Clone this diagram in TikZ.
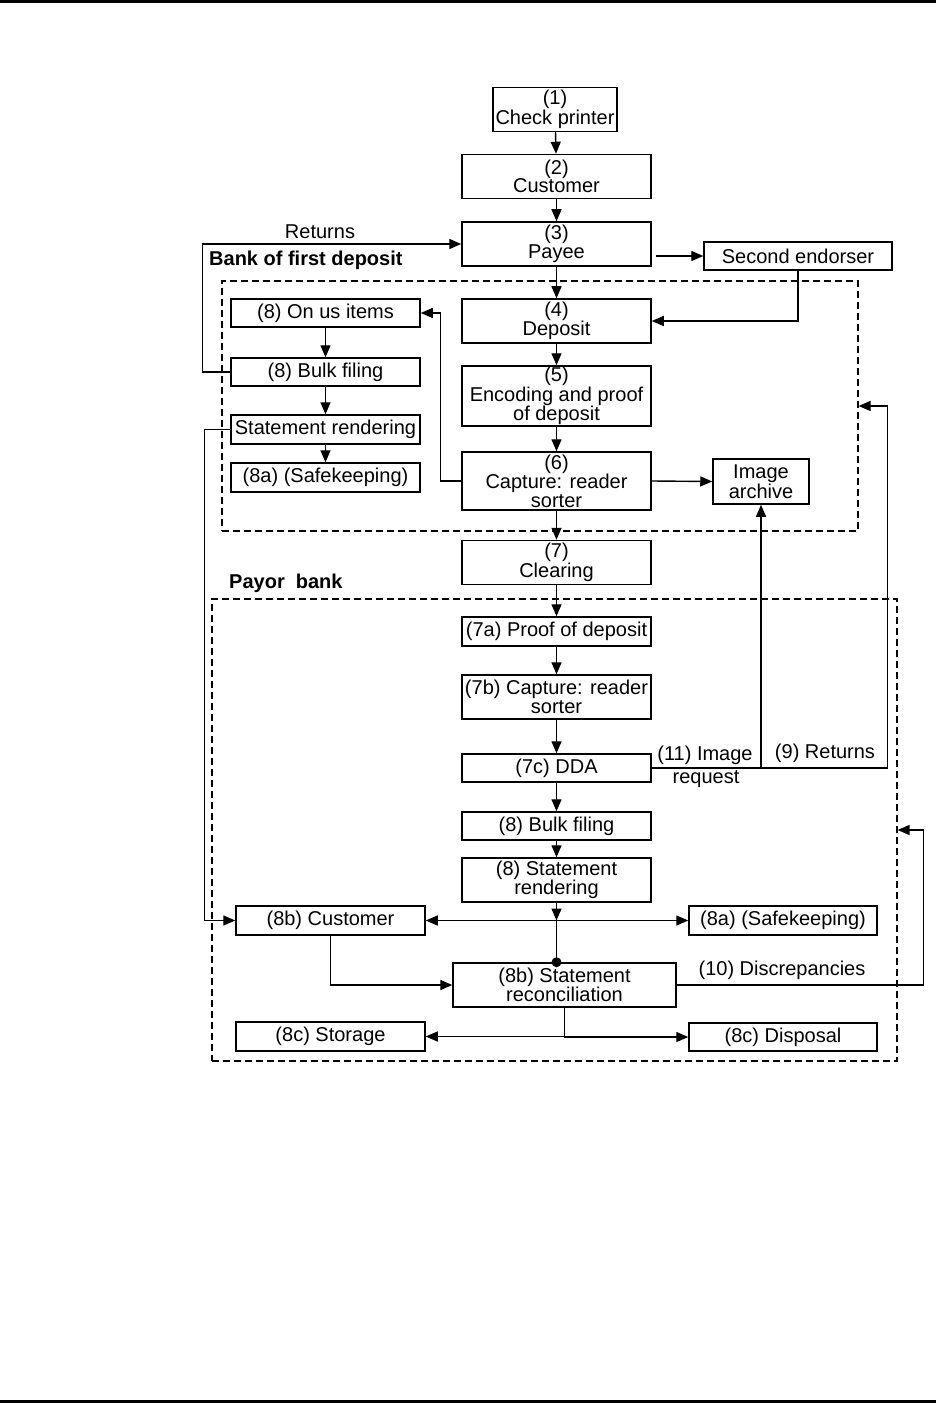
\documentclass[tikz,border=0pt]{standalone}
\usepackage{fontspec}
\setmainfont{Liberation Sans}
\usetikzlibrary{arrows.meta}
\newcommand{\boxfont}{\fontsize{20}{18.5}\selectfont}

\begin{document}
\begin{tikzpicture}[
  x=1pt, y=-1pt,
  >={Triangle[length=12pt,width=10pt]},
  box/.style={draw, line width=1.5pt, inner sep=1pt, align=center, font=\boxfont, minimum width=189pt, minimum height=28pt},
  tall/.style={box, minimum height=44pt},
  zone/.style={draw, line width=1.2pt, dash pattern=on 7pt off 4pt, inner sep=0pt},
  arr/.style={->, line width=1.4pt},
  wire/.style={line width=1.4pt},
  lab/.style={inner sep=0pt, font=\boxfont},
]
\useasboundingbox (0,0) rectangle (936,1404);

% page rules
\draw[line width=3pt] (0,2) -- (936,2);
\draw[line width=3pt] (0,1401) -- (936,1401);

% bank areas
\node[zone, minimum width=636pt, minimum height=250pt] (bfd) at (540,406) {};
\node[zone, minimum width=685pt, minimum height=462pt] (payor) at (554.5,830) {};

\node[lab, anchor=west, font=\boxfont\bfseries] (lbfd) at (209,260) {Bank of first deposit};
\node[lab, anchor=west, font=\boxfont\bfseries] (lpayor) at (229,583) {Payor\ \ bank};

% main column
\node[tall, minimum width=124pt] (printer) at (555,109.5) {(1)\\Check printer};
\node[tall] (cust) at (556.5,176.5) {(2)\\Customer};
\node[tall] (payee) at (556.5,244) {(3)\\Payee};
\node[box, minimum width=188pt] (endorser) at (798,256) {Second endorser};
\node[tall] (deposit) at (556.5,321) {(4)\\Deposit};
\node[tall, minimum height=60pt] (encode) at (556.5,396) {(5)\\Encoding and proof\\of deposit};
\node[tall, minimum height=58pt] (captureA) at (556.5,481) {(6)\\Capture: reader\\sorter};
\node[tall, minimum width=96pt, minimum height=45pt] (archive) at (761,481.5) {Image\\archive};
\node[tall] (clearing) at (556.5,562.5) {(7)\\Clearing};

% first deposit bank, left column
\node[box] (onus) at (325.5,313) {(8) On us items};
\node[box] (bulkA) at (325.5,372) {(8) Bulk filing};
\node[box, minimum height=29pt] (stmtA) at (325.5,429.5) {Statement rendering};
\node[box, minimum height=29pt] (safeA) at (325.5,477.5) {(8a) (Safekeeping)};

% payor bank
\node[box, minimum height=29pt] (proof) at (556.5,631.5) {(7a) Proof of deposit};
\node[tall] (captureB) at (556.5,697) {(7b) Capture: reader\\sorter};
\node[box] (dda) at (556.5,768) {(7c) DDA};
\node[box] (bulkB) at (556.5,826) {(8) Bulk filing};
\node[tall] (stmtB) at (556.5,880) {(8) Statement\\rendering};
\node[box, minimum height=29pt] (custB) at (330.5,920.5) {(8b) Customer};
\node[box, minimum width=188pt, minimum height=29pt] (safeB) at (783,920.5) {(8a) (Safekeeping)};
\node[tall, minimum width=223pt] (recon) at (564.5,985) {(8b) Statement\\reconciliation};
\node[box, minimum height=29pt] (storage) at (330.5,1036.5) {(8c) Storage};
\node[box, minimum width=188pt] (disposal) at (783,1037) {(8c) Disposal};

% labels
\node[lab] (lret) at (320,232) {Returns};
\node[lab] (limage) at (705,755) {(11) Image};
\node[lab] (lrequest) at (706,779) {request};
\node[lab] (lret9) at (825,753) {(9) Returns};
\node[lab] (ldisc) at (782,970) {(10) Discrepancies};

% flow down the middle
\draw[arr] (printer) -- (cust);
\draw[arr] (cust) -- (payee);
\draw[arr] (payee) -- (deposit);
\draw[arr] (deposit) -- (encode);
\draw[arr] (encode) -- (captureA);
\draw[arr] (captureA) -- (clearing);
\draw[arr] (clearing) -- (proof);
\draw[arr] (proof) -- (captureB);
\draw[arr] (captureB) -- (dda);
\draw[arr] (dda) -- (bulkB);
\draw[arr] (bulkB) -- (stmtB);

\draw[arr] ([xshift=4pt]payee.east |- endorser.west) -- (endorser.west);
\draw[arr] (endorser.south) |- (deposit.east);
\draw[arr] (captureA.east) -- (archive.west);
\draw[arr] (captureA.west) -- ++(-21,0) |- (onus.east);
\draw[arr] (onus) -- (bulkA);
\draw[arr] (bulkA) -- (stmtA);
\draw[arr] (stmtA) -- (safeA);
\draw[arr] (bulkA.west) -- ++(-28,0) |- (payee.west);
\draw[arr] (stmtA.west) -- ++(-26,0) |- (custB.west);

% requests and returns
\draw[arr] (dda.east) -| (archive.south);
\draw[arr] (dda.east) -- ++(236,0) |- (bfd.east);
\draw[arr] (recon.east) -- ++(247,0) |- (payor.east);

% statement handling
\coordinate (split) at (stmtB.south |- custB.east);
\draw[arr] (stmtB.south) -- (split);
\draw[wire] (split) -- (stmtB.south |- recon.north);
\fill (stmtB.south |- recon.north) circle (5pt);
\draw[arr, <->] (custB.east) -- (safeB.west);
\draw[arr] (custB.south) |- (recon.west);
\draw[arr] (recon.south) |- (storage.east);
\draw[arr] (recon.south) |- (disposal.west);

\end{tikzpicture}
\end{document}
